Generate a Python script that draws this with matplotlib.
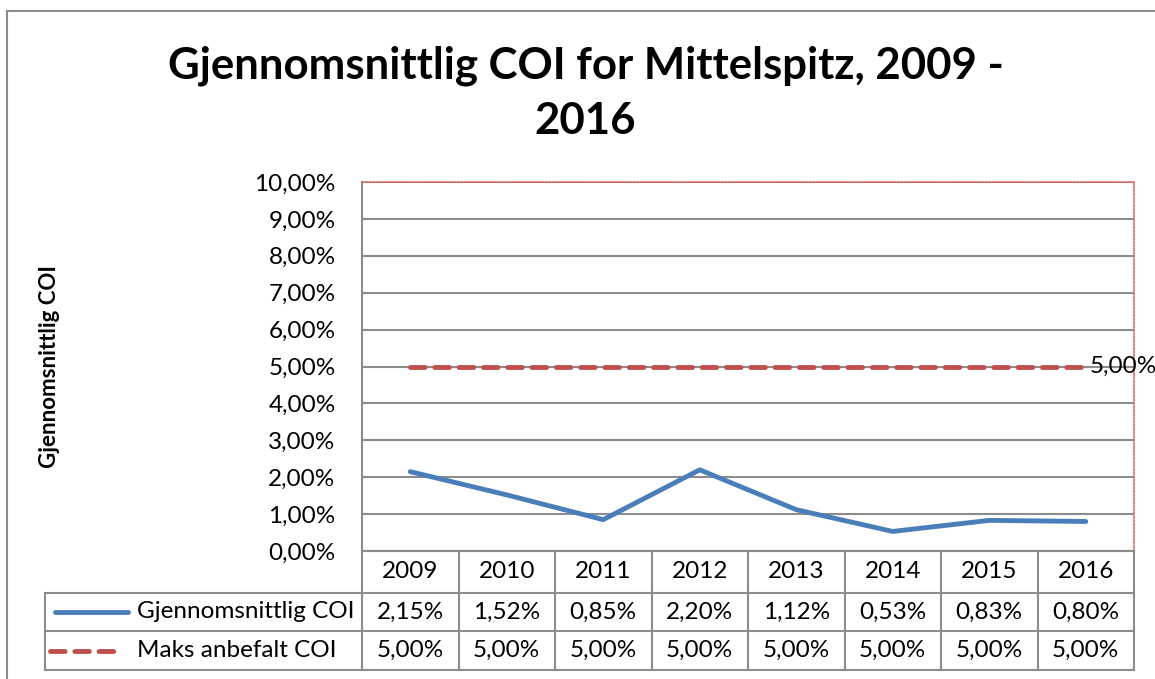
"""
Gjennomsnittlig COI for Mittelspitz, 2009 - 2016 (linjediagram med datatabell)
"""

import matplotlib
matplotlib.use('Agg')
import matplotlib.pyplot as plt
from matplotlib.lines import Line2D
from matplotlib.ticker import FuncFormatter, MultipleLocator
import matplotlib.transforms as mtransforms

plt.rcParams['font.family'] = ['Lato', 'DejaVu Sans']

# data
years = ['2009', '2010', '2011', '2012', '2013', '2014', '2015', '2016']
coi = [0.0215, 0.0152, 0.0085, 0.0220, 0.0112, 0.0053, 0.0083, 0.0080]
maks = [0.05, 0.05, 0.05, 0.05, 0.05, 0.05, 0.05, 0.05]
series_names = ['Gjennomsnittlig COI', 'Maks anbefalt COI']
title = 'Gjennomsnittlig COI for Mittelspitz, 2009 -\n2016'
ylabel = 'Gjennomsnittlig COI'

blue = '#4a7ebb'
red = '#c0504d'
grey = '#8c8c8c'
fs = 17.5
lw = 3.5


def pct(v):
    return f'{v * 100:.2f}%'.replace('.', ',')


W, H = 1155, 679
fig = plt.figure(figsize=(W / 100, H / 100), dpi=100)

# diagramramme (klippet i høyre og nedre kant)
fig.add_artist(Line2D([7 / W, 7 / W], [0, 1 - 11 / H], color=grey, lw=1.5, transform=fig.transFigure))
fig.add_artist(Line2D([7 / W, 1], [1 - 11 / H, 1 - 11 / H], color=grey, lw=1.5, transform=fig.transFigure))

left, right, top, bottom = 362, 1134, 182, 551
ax = fig.add_axes([left / W, 1 - bottom / H, (right - left) / W, (bottom - top) / H])

x = list(range(len(years)))
ax.plot(x, coi, color=blue, lw=lw, solid_capstyle='round', solid_joinstyle='round', zorder=3)
ax.plot(x, maks, color=red, lw=lw, linestyle=(0, (3.0, 2.0)), dash_capstyle='round', zorder=3)
ax.text(x[-1] + 0.04, maks[-1], pct(maks[-1]), fontsize=fs, va='center', ha='left', zorder=4, clip_on=False)

ax.set_xlim(-0.5, len(years) - 0.5)
ax.set_ylim(0, 0.10)
ax.yaxis.set_major_locator(MultipleLocator(0.01))
ax.yaxis.set_major_formatter(FuncFormatter(lambda v, p: pct(v)))
ax.set_xticks([])
ax.tick_params(axis='y', length=0, labelsize=fs, pad=19)
ax.grid(axis='y', color=grey, lw=1.5)
ax.set_axisbelow(True)

for s in ['top', 'right']:
    ax.spines[s].set_color('#d96b68')
    ax.spines[s].set_linestyle((0, (1, 1.2)))
    ax.spines[s].set_linewidth(1.2)
for s in ['left', 'bottom']:
    ax.spines[s].set_color(grey)
    ax.spines[s].set_linewidth(1.5)

ax.set_ylabel(ylabel, fontsize=16, fontweight='bold', labelpad=0)
ax.yaxis.set_label_coords(60 / W, 0.5, transform=mtransforms.blended_transform_factory(fig.transFigure, ax.transAxes))

fig.suptitle(title, fontsize=31.5, fontweight='bold', x=0.507, y=1 - 46 / H, va='top', linespacing=1.45)

# datatabell under diagrammet
tr = mtransforms.blended_transform_factory(ax.transData, fig.transFigure)
trf = fig.transFigure
rows_y = [1 - 551 / H, 1 - 593 / H, 1 - 631 / H, 1 - 670 / H]
x0 = -0.5
x1 = len(years) - 0.5
leg_left = 45 / W

# horisontale linjer
fig.add_artist(Line2D([x0, x1], [rows_y[0]] * 2, color=grey, lw=1.5, transform=tr))
for yy in rows_y[1:]:
    fig.add_artist(Line2D([leg_left, right / W], [yy, yy], color=grey, lw=1.5, transform=trf))
# vertikale linjer
for i in range(len(years) + 1):
    fig.add_artist(Line2D([x0 + i, x0 + i], [rows_y[0], rows_y[3]], color=grey, lw=1.5, transform=tr))
fig.add_artist(Line2D([leg_left, leg_left], [rows_y[1], rows_y[3]], color=grey, lw=1.5, transform=trf))

for i, yr in enumerate(years):
    fig.text(i, (rows_y[0] + rows_y[1]) / 2, yr, transform=tr, ha='center', va='center', fontsize=fs)
    fig.text(i, (rows_y[1] + rows_y[2]) / 2, pct(coi[i]), transform=tr, ha='center', va='center', fontsize=fs)
    fig.text(i, (rows_y[2] + rows_y[3]) / 2, pct(maks[i]), transform=tr, ha='center', va='center', fontsize=fs)

# forklaringer i tabellen
ym1 = (rows_y[1] + rows_y[2]) / 2
ym2 = (rows_y[2] + rows_y[3]) / 2
fig.add_artist(Line2D([55 / W, 128 / W], [ym1, ym1], color=blue, lw=lw, solid_capstyle='round', transform=trf))
fig.add_artist(Line2D([50 / W, 122 / W], [ym2, ym2], color=red, lw=lw, linestyle=(0, (3.0, 2.0)),
                      dash_capstyle='round', transform=trf))
fig.text(137 / W, ym1, series_names[0], ha='left', va='center', fontsize=fs)
fig.text(137 / W, ym2, series_names[1], ha='left', va='center', fontsize=fs)

fig.savefig('out.png', dpi=100)
plt.close(fig)
